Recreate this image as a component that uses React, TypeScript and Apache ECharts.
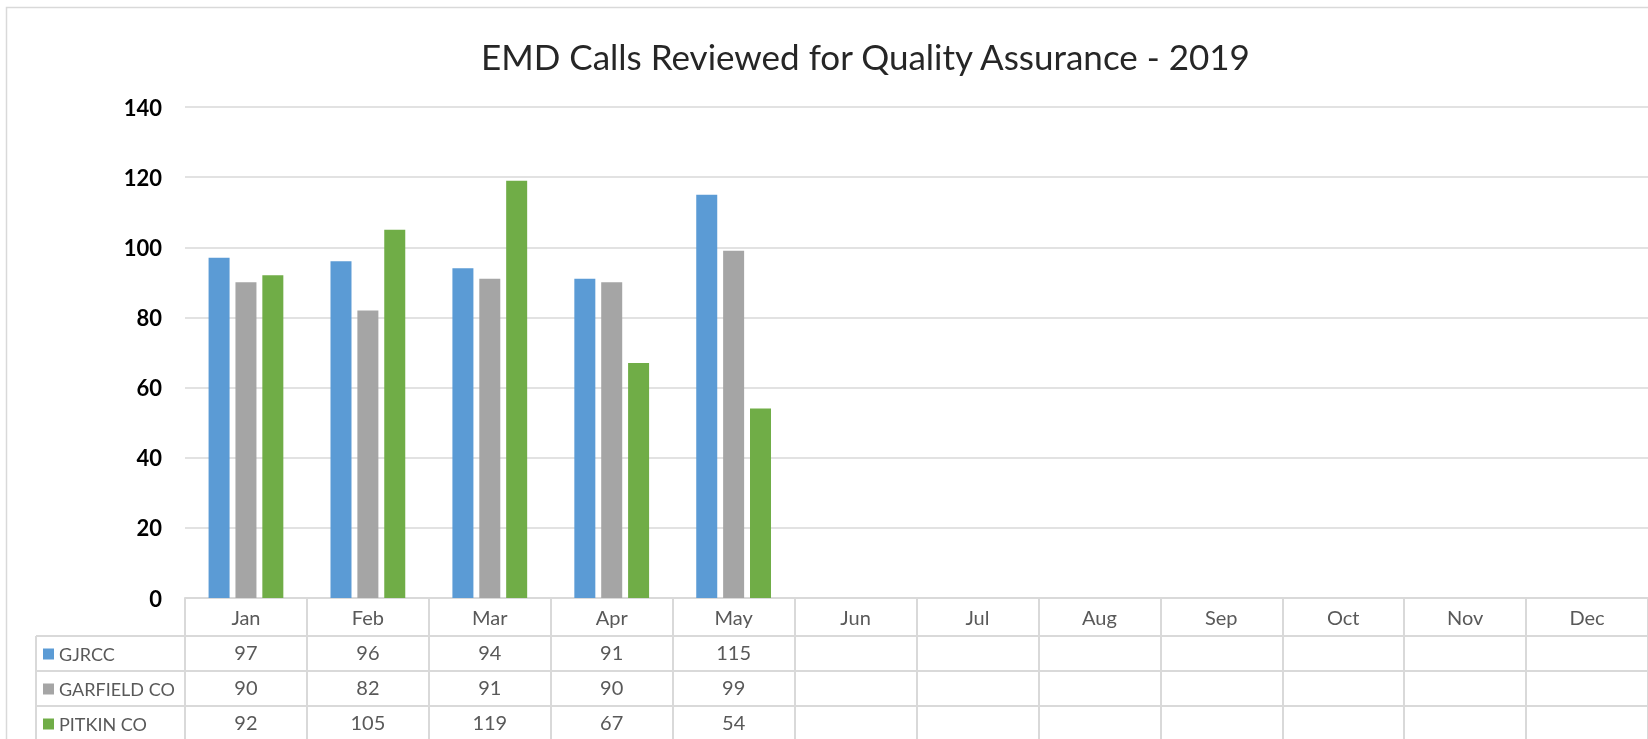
import React, { useEffect, useRef } from "react";
import * as echarts from "echarts";

const months = ["Jan", "Feb", "Mar", "Apr", "May", "Jun", "Jul", "Aug", "Sep", "Oct", "Nov", "Dec"];
const seriesNames = ["GJRCC", "GARFIELD CO", "PITKIN CO"];
const gjrcc = [97, 96, 94, 91, 115];
const garfield = [90, 82, 91, 90, 99];
const pitkin = [92, 105, 119, 67, 54];
const colors = ["#5B9BD5", "#A5A5A5", "#70AD47"];
const yTicks = { min: 0, max: 140, interval: 20 };
const titleText = "EMD Calls Reviewed for Quality Assurance - 2019";

const FONT = "Lato, 'Open Sans', sans-serif";

export default function App() {
  const ref = useRef<HTMLDivElement>(null);
  useEffect(() => {
    const chart = echarts.init(ref.current!, null, { renderer: "svg" });
    const allSeries = [gjrcc, garfield, pitkin];
    const gridLeft = 185;
    const gridTop = 107;
    const gridHeight = 495;
    const colW = 122;
    const gridWidth = colW * months.length;
    const axisY = gridTop + gridHeight;
    const rowH = 35;
    const lineColor = "#d9d9d9";

    const tableLines: any[] = [];
    for (let r = 1; r <= 3; r++) {
      const y = axisY + 34 + (r - 1) * rowH;
      tableLines.push({
        type: "line",
        shape: { x1: 36, y1: y, x2: 1700, y2: y },
        style: { stroke: lineColor, lineWidth: 2 },
        silent: true,
      });
    }
    tableLines.push({
      type: "line",
      shape: { x1: 36, y1: axisY + 34, x2: 36, y2: 760 },
      style: { stroke: lineColor, lineWidth: 2 },
      silent: true,
    });
    tableLines.push({
      type: "rect",
      shape: { x: 6.5, y: 7.5, width: 2000, height: 2000 },
      style: { fill: "none", stroke: lineColor, lineWidth: 1.5 },
      silent: true,
    });

    const legends = seriesNames.map((name, i) => ({
      orient: "horizontal",
      left: 43,
      top: axisY + 34 + i * rowH + 7,
      padding: 0,
      itemWidth: 11,
      itemHeight: 11,
      icon: "rect",
      data: [name],
      textStyle: { fontFamily: FONT, fontSize: 18, color: "#595959", lineHeight: 22 },
      selectedMode: false,
    }));

    chart.setOption({
      animation: false,
      textStyle: { fontFamily: FONT },
      title: {
        text: titleText,
        left: 476,
        top: 33,
        textStyle: { fontFamily: FONT, fontSize: 35, fontWeight: "normal", color: "#262626" },
      },
      legend: legends,
      grid: { left: gridLeft, top: gridTop, width: gridWidth, height: gridHeight, containLabel: false },
      xAxis: {
        type: "category",
        data: months,
        axisLine: { show: true, lineStyle: { color: lineColor, width: 2 } },
        axisTick: { show: true, interval: 0, length: 150, alignWithLabel: false, lineStyle: { color: lineColor, width: 2 } },
        axisLabel: {
          interval: 0,
          margin: 1,
          verticalAlign: "top",
          formatter: (value: string, idx: number) => {
            const lines = [`{h|${value}}`];
            const vals = allSeries.map((s) => (s[idx] == null ? "" : String(s[idx])));
            let last = vals.length - 1;
            while (last >= 0 && vals[last] === "") last--;
            for (let i = 0; i <= last; i++) lines.push(`{v|${vals[i] === "" ? " " : vals[i]}}`);
            return lines.join("\n");
          },
          rich: {
            h: { fontFamily: FONT, fontSize: 20, color: "#595959", lineHeight: 35, height: 35 },
            v: { fontFamily: FONT, fontSize: 20, color: "#595959", lineHeight: 35, height: 35 },
          },
        },
      },
      yAxis: {
        type: "value",
        min: yTicks.min,
        max: yTicks.max,
        interval: yTicks.interval,
        axisLine: { show: false },
        axisTick: { show: false },
        axisLabel: { margin: 23, fontFamily: FONT, fontSize: 22, fontWeight: "bold", color: "#000000" },
        splitLine: { lineStyle: { color: lineColor, width: 1.5 } },
      },
      series: allSeries.map((d, i) => ({
        name: seriesNames[i],
        type: "bar",
        data: d,
        barWidth: 21,
        barGap: "28%",
        itemStyle: { color: colors[i] },
      })),
      graphic: tableLines,
    });
    return () => chart.dispose();
  }, []);
  return <div ref={ref} style={{ position: "fixed", left: 0, top: 0, width: 1648, height: 739 }} />;
}
